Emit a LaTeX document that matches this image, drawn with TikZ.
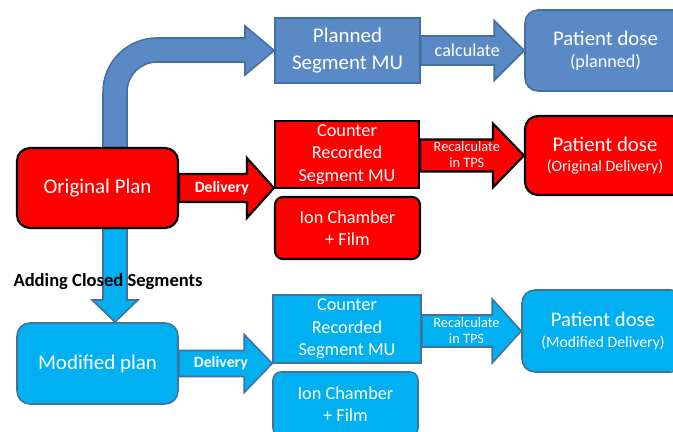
\documentclass[tikz,border=0pt]{standalone}
\usepackage{fontspec}
\setmainfont{Carlito}
\usetikzlibrary{calc}
\pgfdeclarelayer{fondo}
\pgfsetlayers{fondo,main}

\definecolor{azulplan}{HTML}{5A8AC6}
\definecolor{bordeazul}{HTML}{41719C}
\definecolor{celeste}{HTML}{00B0F0}
\definecolor{rojo}{HTML}{FF0000}

%un pixel de la figura
\newcommand{\pix}{0.025cm}

%flecha gruesa: estilo, cola, punta, medio cuerpo, medio cabeza, largo cabeza
\newcommand{\flecha}[6]{%
  \coordinate (cola) at (#2 |- #3);
  \draw[#1] ($(cola)+(0,-#4)$) -- ($(#3)+(-#6,-#4)$) -- ($(#3)+(-#6,-#5)$) -- (#3)
    -- ($(#3)+(-#6,#5)$) -- ($(#3)+(-#6,#4)$) -- ($(cola)+(0,#4)$) -- cycle;}

\tikzset{
  caja/.style={text=white, align=center, inner sep=0pt},
  plan/.style={caja, fill=azulplan, draw=bordeazul, line width=1.1pt},
  orig/.style={caja, fill=rojo, draw=black, line width=1.5pt},
  modif/.style={caja, fill=celeste, draw=bordeazul, line width=1.1pt},
  redondo/.style={rounded corners=13*\pix},
  chico/.style={rounded corners=8*\pix},
  flechaplan/.style={fill=azulplan, draw=bordeazul, line width=1.1pt},
  flecharoja/.style={fill=rojo, draw=black, line width=1.5pt},
  flechaceleste/.style={fill=celeste, draw=bordeazul, line width=1.1pt},
  rotulo/.style={text=white, align=center, inner sep=0pt}
}

\begin{document}
\begin{tikzpicture}[x=0.025cm, y=-0.025cm]
%area visible
\path[use as bounding box, clip] (0,0) rectangle (673,432);

%cajas del plan
\node[plan, minimum width=145*\pix, minimum height=65*\pix, font=\fontsize{14.9}{19}\selectfont] (psmu) at (347.5,50.5) {Planned\\Segment MU};
\node[plan, redondo, minimum width=161*\pix, minimum height=81*\pix, font=\fontsize{14.8}{15.3}\selectfont] (pdp) at (605.5,50.5) {Patient dose\\{\fontsize{12.9}{15}\selectfont (planned)}};

%cajas del plan original
\node[orig, redondo, minimum width=161*\pix, minimum height=80*\pix, font=\fontsize{14.9}{18}\selectfont] (op) at (97.5,188) {Original Plan};
\node[orig, minimum width=144*\pix, minimum height=67*\pix, font=\fontsize{13}{16}\selectfont] (crs) at (347,154.5) {Counter\\Recorded\\Segment MU};
\node[orig, chico, minimum width=145*\pix, minimum height=62*\pix, font=\fontsize{13}{15.6}\selectfont] (ion) at (347.5,228) {Ion Chamber\\+ Film};
\node[orig, redondo, minimum width=160*\pix, minimum height=79*\pix, font=\fontsize{14.8}{14.5}\selectfont] (pdo) at (605,155.5) {Patient dose\\{\fontsize{11.3}{14}\selectfont (Original Delivery)}};

%cajas del plan modificado
\node[modif, redondo, minimum width=161*\pix, minimum height=81*\pix, font=\fontsize{14.9}{18}\selectfont] (mp) at (97.5,363.5) {Modified plan};
\node[modif, minimum width=148*\pix, minimum height=68*\pix, font=\fontsize{13}{16}\selectfont] (ccrs) at (347,329) {Counter\\Recorded\\Segment MU};
\node[modif, chico, minimum width=145*\pix, minimum height=64*\pix, font=\fontsize{13}{15.6}\selectfont] (cion) at (345.5,404) {Ion Chamber\\+ Film};
\node[modif, redondo, minimum width=162*\pix, minimum height=82*\pix, font=\fontsize{14.7}{15}\selectfont] (pdm) at (603,331) {Patient dose\\{\fontsize{11.2}{14}\selectfont (Modified Delivery)}};

%flechas gruesas por debajo
\begin{pgfonlayer}{fondo}
\draw[flechaplan] (103,150) -- (103,92) .. controls (103,62.2) and (127.2,38) .. (157,38) -- (245,38) -- (245,26) -- (psmu.west)
  -- (245,75) -- (245,62) -- (157,62) .. controls (140.4,62) and (127,75.4) .. (127,92) -- (127,150) -- cycle;
\flecha{flechaplan}{psmu.east}{pdp.west}{14.5}{30}{30}
\coordinate (entrada1) at (op.east -| crs.west);
\flecha{flecharoja}{op.east}{entrada1}{14}{30}{27}
\flecha{flecharoja}{crs.east}{pdo.west}{16}{32}{31}
\draw[flechaceleste] (103,226) -- (103,300) -- (92,300) -- (115,322) -- (138,300) -- (127,300) -- (127,226) -- cycle;
\coordinate (entrada2) at (mp.east -| ccrs.west);
\flecha{flechaceleste}{mp.east}{entrada2}{13}{29}{28}
\flecha{flechaceleste}{ccrs.east}{pdm.west}{16}{32}{29}
\end{pgfonlayer}

%rotulos de las flechas
\node[rotulo, font=\fontsize{12.9}{15}\selectfont] (calc) at ($(psmu.east)!0.45!(pdp.west)$) {calculate};
\node[rotulo, font=\bfseries\fontsize{11.2}{13}\selectfont] (del1) at ($(op.east)!0.45!(entrada1)$) {Delivery};
\node[rotulo, font=\fontsize{10.2}{11.3}\selectfont] (rec1) at ($(crs.east)!0.45!(pdo.west)$) {Recalculate\\in TPS};
\node[rotulo, font=\bfseries\fontsize{11.2}{13}\selectfont] (del2) at ($(mp.east)!0.45!(entrada2)$) {Delivery};
\node[rotulo, font=\fontsize{10.2}{11.3}\selectfont] (rec2) at ($(ccrs.east |- pdm.west)!0.45!(pdm.west)$) {Recalculate\\in TPS};

%texto sobre la bajada
\node[font=\bfseries\fontsize{13.2}{15}\selectfont, inner sep=0pt] (cerrados) at (108,282) {Adding Closed Segments};
\end{tikzpicture}
\end{document}
